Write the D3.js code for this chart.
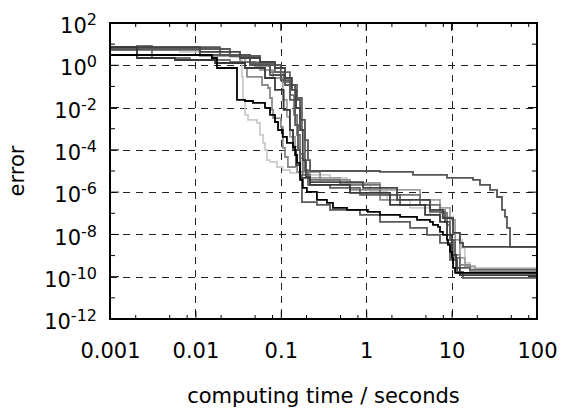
<!DOCTYPE html>
<html>
<head>
<meta charset="utf-8">
<script src="https://cdn.jsdelivr.net/npm/d3@7"></script>
<style>
  body { margin: 0; background: #fff; }
  text { font-family: "DejaVu Sans", Verdana, sans-serif; }
</style>
</head>
<body>
<div id="chart"></div>
<script>
// tick values / labels
const xTicks = [0.001, 0.01, 0.1, 1, 10, 100];
const xTickLabels = ["0.001", "0.01", "0.1", "1", "10", "100"];
const yExponents = [2, 0, -2, -4, -6, -8, -10, -12];

// convergence runs: [time in seconds, error]
const runLightest = [[0.001,5.3],[0.0066,4.3],[0.0254,2.47],[0.0351,0.28],[0.0361,0.0229],[0.0381,0.00447],[0.0413,0.0026],[0.0526,0.00187],[0.0571,5.1e-4],[0.0619,2.12e-4],[0.0653,9.9e-5],[0.0689,3.3e-5],[0.0748,2.7e-5],[0.0904,1.55e-5],[0.1055,1.1e-5],[0.128,8.1e-6],[0.168,6.5e-6],[0.377,4.7e-6],[0.596,2.2e-6],[1.11,1.02e-6],[1.75,4.3e-7],[3.26,1.8e-7],[5.58,8.4e-8],[7.31,6.7e-8],[10.4,1.18e-8],[12.5,5.5e-9],[13.2,2.3e-9],[14.3,4.5e-10],[16.4,2.6e-10],[100,2.6e-10]];
const runLight = [[0.001,5.9],[0.0113,2.75],[0.0381,1.43],[0.0571,0.6],[0.0811,0.25],[0.1055,0.0229],[0.118,0.0036],[0.128,4.1e-4],[0.147,1.37e-4],[0.168,4.1e-5],[0.181,1.0e-5],[0.22,4.7e-6],[0.493,2.7e-6],[1.45,1.27e-6],[4.27,4.3e-7],[7.31,1.8e-7],[9.57,4.9e-8],[11.0,5.5e-9],[12.5,7.7e-10],[14.3,3.2e-10],[18.8,2.34e-10],[100,2.34e-10]];
const runMid = [[0.001,6.6],[0.0113,3.07],[0.0333,1.43],[0.0381,0.745],[0.0402,0.28],[0.0603,0.117],[0.0708,0.0845],[0.0748,0.0284],[0.0789,0.0077],[0.0811,0.0032],[0.1,0.00121],[0.1055,1.23e-4],[0.112,4.6e-5],[0.121,1.55e-5],[0.155,9.0e-6],[0.288,3.8e-6],[0.646,1.27e-6],[1.45,4.3e-7],[2.49,2.5e-7],[5.58,1.44e-7],[8.37,3.9e-8],[9.57,5.5e-9],[11.0,1.07e-9],[12.5,3.6e-10],[16.4,1.69e-10],[100,1.69e-10]];
const runBox = [[0.001,5.3],[0.00207,8.2],[0.0031,2.21],[0.00865,1.78],[0.0254,1.43],[0.0499,0.93],[0.0748,0.48],[0.108,0.162],[0.128,0.039],[0.143,0.00447],[0.155,5.1e-4],[0.168,6.5e-5],[0.181,6.5e-6],[0.22,3.8e-6],[0.493,2.2e-6],[1.45,7.4e-7],[4.27,2.5e-7],[7.31,1.04e-7],[8.84,2.8e-8],[9.57,5.5e-9],[10.4,6.2e-10],[11.6,1.51e-10],[100,1.51e-10]];
const runA = [[0.001,5.3],[0.0113,3.07],[0.0436,1.28],[0.0855,0.48],[0.128,0.117],[0.155,0.0284],[0.177,8.7e-4],[0.192,1.1e-5],[0.208,2.2e-6],[0.377,1.58e-6],[0.845,7.4e-7],[2.49,2.5e-7],[5.58,1.16e-7],[8.37,3.9e-8],[9.57,5.5e-9],[11.0,7.7e-10],[12.5,2.6e-10],[16.4,2.1e-10],[100,2.1e-10]];
const runLow = [[0.001,5.9],[0.0254,2.75],[0.0571,1.03],[0.1,0.2],[0.128,0.0229],[0.147,0.0015],[0.159,9.9e-5],[0.168,6.5e-6],[0.177,3.4e-7],[0.265,2.5e-7],[0.377,1.44e-7],[0.845,8.4e-8],[1.45,3.9e-8],[3.26,2.03e-8],[5.15,9.5e-9],[7.31,4.0e-9],[9.57,6.2e-10],[11.6,1.69e-10],[13.6,8.8e-11],[100,8.8e-11]];
const runPlateau = [[0.001,7.3],[0.0194,3.07],[0.0436,1.03],[0.0748,0.348],[0.112,0.117],[0.147,0.0229],[0.168,0.0026],[0.192,2.9e-4],[0.208,3.3e-5],[0.22,1.0e-5],[1.45,9.0e-6],[3.53,6.5e-6],[8.84,4.7e-6],[17.8,3.8e-6],[21.5,2.2e-6],[28.2,1.27e-6],[34.0,5.9e-7],[38.9,1.44e-7],[42.2,6.7e-8],[44.5,2.03e-8],[48.3,2.56e-9],[100,2.56e-9]];
const runB = [[0.001,7.3],[0.0113,4.3],[0.0333,2.21],[0.0571,1.43],[0.0855,0.745],[0.112,0.25],[0.135,0.068],[0.151,0.0096],[0.168,8.7e-4],[0.181,3.3e-5],[0.197,5.2e-6],[0.22,3.0e-6],[0.918,1.58e-6],[2.3,4.3e-7],[5.58,1.44e-7],[7.92,6.0e-8],[10.4,1.18e-8],[12.5,4.0e-9],[13.6,2.56e-9],[100,2.56e-9]];
const runC = [[0.001,7.3],[0.00207,2.21],[0.00577,1.78],[0.017,1.28],[0.0381,0.745],[0.0653,0.25],[0.0855,0.068],[0.108,0.0077],[0.128,8.7e-4],[0.139,9.9e-5],[0.151,1.9e-5],[0.168,4.7e-6],[0.22,2.2e-6],[0.646,9.2e-7],[1.9,2.5e-7],[4.89,8.4e-8],[7.31,3.9e-8],[8.84,9.5e-9],[10.1,1.07e-9],[11.3,2.6e-10],[12.5,1.2e-10],[100,1.2e-10]];
const runBlack = [[0.001,3.07],[0.0156,2.21],[0.0179,0.745],[0.0307,0.0229],[0.0381,0.0205],[0.0472,0.0165],[0.0653,0.0096],[0.0748,0.00447],[0.0855,0.00208],[0.0928,8.7e-4],[0.1055,4.1e-4],[0.118,2.12e-4],[0.139,1.37e-4],[0.147,5.7e-5],[0.155,2.4e-5],[0.168,3.8e-6],[0.181,1.58e-6],[0.202,1.02e-6],[0.265,4.3e-7],[0.347,3.1e-7],[0.408,1.8e-7],[0.596,1.44e-7],[1.047,1.16e-7],[1.45,8.4e-8],[2.49,6.7e-8],[3.94,4.9e-8],[5.58,3.9e-8],[6.05,2.8e-8],[6.93,2.26e-8],[7.31,1.31e-8],[7.92,9.5e-9],[8.84,5.5e-9],[9.07,3.2e-9],[9.57,1.49e-9],[10.1,7.7e-10],[10.4,2.6e-10],[11.0,1.51e-10],[100,1.51e-10]];

const runs = [runLightest, runLight, runMid, runBox, runA, runLow, runPlateau, runB, runC, runBlack];
const runColors = ["#cccccc", "#a0a0a0", "#8a8a8a", "#747474", "#626262", "#5a5a5a", "#555555", "#444444", "#383838", "#000000"];

const margin = { top: 23, right: 24, bottom: 93, left: 110 };
const width = 561 - margin.left - margin.right,
    height = 412 - margin.top - margin.bottom;

const svg = d3.select("#chart").append("svg")
    .attr("width", 561)
    .attr("height", 412)
    .append("g")
    .attr("transform", `translate(${margin.left},${margin.top})`);

const xScale = d3.scaleLog().domain([0.001, 100]).range([0, width]);
const yScale = d3.scaleLog().domain([1e-12, 1e2]).range([height, 0]);

// dashed grid
svg.append("g")
    .selectAll("line")
    .data(xTicks.slice(1, -1))
    .join("line")
    .attr("x1", d => Math.round(xScale(d)) + 0.5)
    .attr("x2", d => Math.round(xScale(d)) + 0.5)
    .attr("y1", 0)
    .attr("y2", height)
    .attr("stroke", "#222")
    .attr("stroke-dasharray", "7,6");

svg.append("g")
    .selectAll("line")
    .data(yExponents.slice(1, -1))
    .join("line")
    .attr("x1", 0)
    .attr("x2", width)
    .attr("y1", d => Math.round(yScale(10 ** d)) + 0.5)
    .attr("y2", d => Math.round(yScale(10 ** d)) + 0.5)
    .attr("stroke", "#222")
    .attr("stroke-dasharray", "7,6");

// minor ticks on x (2, 5, 8 per decade), top and bottom
const xMinor = [];
for (let p = -3; p < 2; p++) {
    for (const m of [2, 5, 8]) xMinor.push(m * 10 ** p);
}
const minor = svg.append("g").attr("stroke", "#000");
minor.selectAll(".mb").data(xMinor).join("line")
    .attr("x1", d => xScale(d)).attr("x2", d => xScale(d))
    .attr("y1", height).attr("y2", height - 4);
minor.selectAll(".mt").data(xMinor).join("line")
    .attr("x1", d => xScale(d)).attr("x2", d => xScale(d))
    .attr("y1", 0).attr("y2", 4);

// y ticks at each decade, left and right
const yAll = d3.range(-12, 3);
minor.selectAll(".yl").data(yAll).join("line")
    .attr("x1", 0).attr("x2", d => d % 2 === 0 ? 9 : 5)
    .attr("y1", d => yScale(10 ** d)).attr("y2", d => yScale(10 ** d));
minor.selectAll(".yr").data(yAll).join("line")
    .attr("x1", width).attr("x2", d => width - (d % 2 === 0 ? 9 : 5))
    .attr("y1", d => yScale(10 ** d)).attr("y2", d => yScale(10 ** d));
minor.selectAll(".xt").data(xTicks).join("line")
    .attr("x1", d => xScale(d)).attr("x2", d => xScale(d))
    .attr("y1", 0).attr("y2", 8);

// x axis
const xAxis = d3.axisBottom(xScale)
    .tickValues(xTicks)
    .tickFormat((d, i) => xTickLabels[i])
    .tickSizeInner(-8)
    .tickSizeOuter(0)
    .tickPadding(24);

svg.append("g")
    .attr("class", "axis x-axis")
    .attr("transform", `translate(0, ${height})`)
    .call(xAxis)
    .call(g => g.select(".domain").remove())
    .call(g => g.selectAll("text").attr("font-size", 21).attr("fill", "#000")
        .attr("font-family", '"DejaVu Sans", Verdana, sans-serif'));

// y axis with superscript labels
const yAxis = d3.axisLeft(yScale)
    .tickValues(yExponents.map(e => 10 ** e))
    .tickFormat("")
    .tickSize(0)
    .tickPadding(13);

svg.append("g")
    .attr("class", "axis y-axis")
    .call(yAxis)
    .call(g => g.select(".domain").remove())
    .call(g => g.selectAll(".tick text")
        .attr("font-size", 21)
        .attr("fill", "#000")
        .attr("dy", "0.46em")
        .attr("font-family", '"DejaVu Sans", Verdana, sans-serif')
        .each(function (d, i) {
            const t = d3.select(this);
            t.append("tspan").text("10");
            t.append("tspan").attr("dy", "-0.5em").attr("font-size", 16).text(yExponents[i]);
        }));

// runs
const line = d3.line()
    .curve(d3.curveStepAfter)
    .x(d => xScale(d[0]))
    .y(d => yScale(d[1]));

svg.append("g")
    .selectAll("path")
    .data(runs)
    .join("path")
    .attr("fill", "none")
    .attr("stroke", (d, i) => runColors[i])
    .attr("stroke-width", 1.8)
    .attr("d", line);

// frame
svg.append("rect")
    .attr("width", width)
    .attr("height", height)
    .attr("fill", "none")
    .attr("stroke", "#000")
    .attr("stroke-width", 2);

// axis titles
svg.append("text")
    .attr("x", width / 2)
    .attr("y", height + 84)
    .attr("text-anchor", "middle")
    .attr("font-size", 21)
    .text("computing time / seconds");

svg.append("text")
    .attr("transform", `translate(${-margin.left + 24}, ${height / 2}) rotate(-90)`)
    .attr("text-anchor", "middle")
    .attr("font-size", 21)
    .text("error");
</script>
</body>
</html>
